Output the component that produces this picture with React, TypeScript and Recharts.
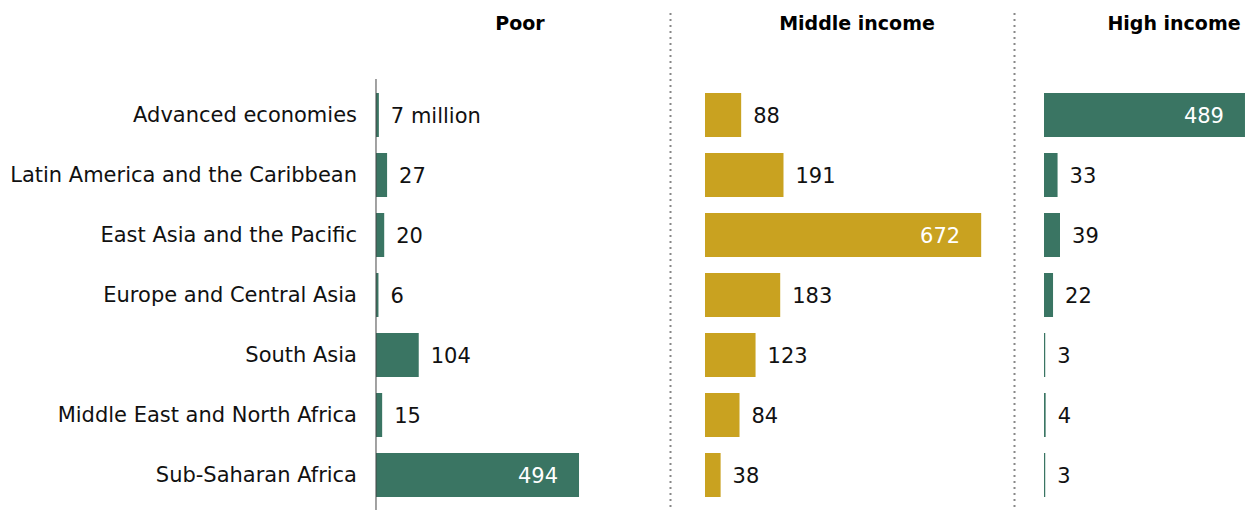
import React from 'react';
import { BarChart, Bar, XAxis, YAxis, LabelList } from 'recharts';

const categories = [
  'Advanced economies',
  'Latin America and the Caribbean',
  'East Asia and the Pacific',
  'Europe and Central Asia',
  'South Asia',
  'Middle East and North Africa',
  'Sub-Saharan Africa',
];
const poorValues = [7, 27, 20, 6, 104, 15, 494];
const middleValues = [88, 191, 672, 183, 123, 84, 38];
const highValues = [489, 33, 39, 22, 3, 4, 3];
const panelTitles = ['Poor', 'Middle income', 'High income'];

const GREEN = '#3a7563';
const GOLD = '#c9a220';
const PX_PER_UNIT = 0.411;
const FONT = '"DejaVu Sans", "Liberation Sans", Arial, sans-serif';
const CHART_H = 510;

function CategoryTick(props: any) {
  const { x, y, payload } = props;
  return (
    <text x={x} y={y} textAnchor="end" dominantBaseline="central" fontSize={21} fill="#111" fontFamily={FONT}>
      {payload.value}
    </text>
  );
}

function renderValue(props: any, firstSuffix: string) {
  const { x, y, width, height, value, index } = props;
  const label = index === 0 && firstSuffix ? `${value}${firstSuffix}` : `${value}`;
  const cy = Number(y) + Number(height) / 2 + 1;
  if (value > 400) {
    return (
      <text x={Number(x) + Number(width) - 21} y={cy} textAnchor="end" dominantBaseline="central" fontSize={21} fill="#fff" fontFamily={FONT}>
        {label}
      </text>
    );
  }
  return (
    <text x={Number(x) + Number(width) + 12} y={cy} textAnchor="start" dominantBaseline="central" fontSize={21} fill="#111" fontFamily={FONT}>
      {label}
    </text>
  );
}

interface PanelProps {
  values: number[];
  color: string;
  domainMax: number;
  left: number;
  axisWidth: number;
  showCategories?: boolean;
  firstSuffix?: string;
}

function Panel({ values, color, domainMax, left, axisWidth, showCategories, firstSuffix = '' }: PanelProps) {
  const data = categories.map((name, i) => ({ name, value: values[i] }));
  const width = axisWidth + domainMax * PX_PER_UNIT;
  return (
    <div style={{ position: 'absolute', left, top: 0 }}>
      <BarChart
        width={width}
        height={CHART_H}
        data={data}
        layout="vertical"
        margin={{ top: 79, right: 0, bottom: 0, left: 0 }}
        barCategoryGap={0}
      >
        <XAxis type="number" domain={[0, domainMax]} hide />
        <YAxis
          type="category"
          dataKey="name"
          width={axisWidth}
          padding={{ top: 6, bottom: 5 }}
          axisLine={{ stroke: '#444', strokeWidth: 1 }}
          tickLine={false}
          tickMargin={13}
          tick={showCategories ? <CategoryTick /> : false}
          interval={0}
        />
        <Bar dataKey="value" fill={color} barSize={44} isAnimationActive={false}>
          <LabelList dataKey="value" content={(p: any) => renderValue(p, firstSuffix)} />
        </Bar>
      </BarChart>
    </div>
  );
}

export default function App() {
  return (
    <div style={{ position: 'relative', width: 1251, height: CHART_H, background: '#fff', overflow: 'hidden', fontFamily: FONT }}>
      <style>{`body{margin:0}`}</style>
      <svg width={1251} height={CHART_H} style={{ position: 'absolute', left: 0, top: 0 }}>
        <line x1={670.5} y1={13} x2={670.5} y2={CHART_H} stroke="#888" strokeWidth={2} strokeDasharray="2 4" />
        <line x1={1014.5} y1={13} x2={1014.5} y2={CHART_H} stroke="#888" strokeWidth={2} strokeDasharray="2 4" />
        <text x={520} y={30} textAnchor="middle" fontSize={19} fontWeight="bold" fill="#000" fontFamily={FONT}>{panelTitles[0]}</text>
        <text x={857} y={30} textAnchor="middle" fontSize={19} fontWeight="bold" fill="#000" fontFamily={FONT}>{panelTitles[1]}</text>
        <text x={1174} y={30} textAnchor="middle" fontSize={19} fontWeight="bold" fill="#000" fontFamily={FONT}>{panelTitles[2]}</text>
      </svg>
      <Panel values={poorValues} color={GREEN} domainMax={700} left={0} axisWidth={376} showCategories firstSuffix=" million" />
      <Panel values={middleValues} color={GOLD} domainMax={700} left={705} axisWidth={0} />
      <Panel values={highValues} color={GREEN} domainMax={500} left={1044} axisWidth={0} />
    </div>
  );
}
